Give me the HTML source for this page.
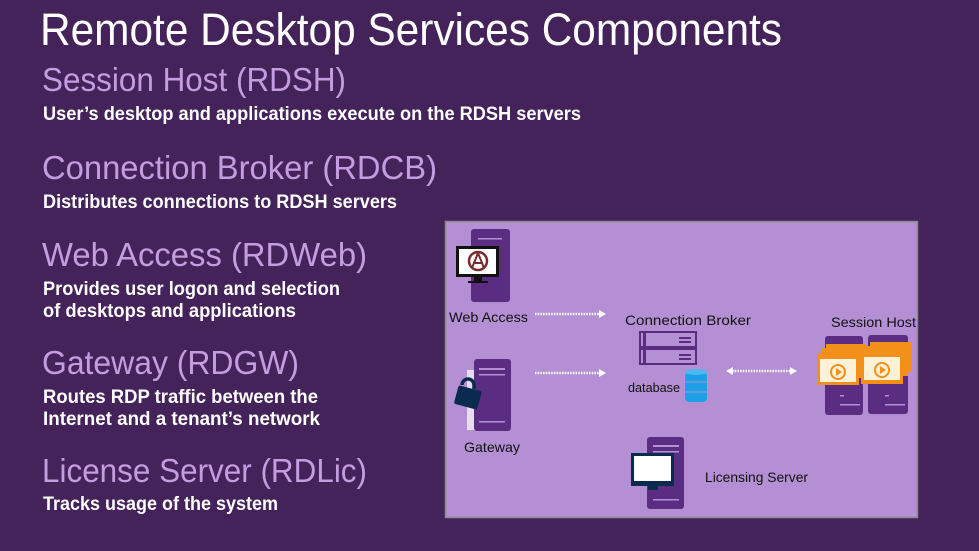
<!DOCTYPE html>
<html><head><meta charset="utf-8"><style>
html,body{margin:0;padding:0;background:#44235a;}
svg{display:block;font-family:"Liberation Sans",sans-serif;}
</style></head><body>
<svg width="979" height="551" viewBox="0 0 979 551" xmlns="http://www.w3.org/2000/svg">
<rect width="979" height="551" fill="#44235a"/>
<text x="40" y="45" font-size="45" fill="#fff" textLength="742" lengthAdjust="spacingAndGlyphs">Remote Desktop Services Components</text>
<g fill="#c49de0" font-size="33">
<text x="42" y="91" textLength="304" lengthAdjust="spacingAndGlyphs">Session Host (RDSH)</text>
<text x="42" y="179" textLength="395" lengthAdjust="spacingAndGlyphs">Connection Broker (RDCB)</text>
<text x="42" y="266" textLength="325" lengthAdjust="spacingAndGlyphs">Web Access (RDWeb)</text>
<text x="42" y="374" textLength="257" lengthAdjust="spacingAndGlyphs">Gateway (RDGW)</text>
<text x="42" y="482" textLength="325" lengthAdjust="spacingAndGlyphs">License Server (RDLic)</text>
</g>
<g fill="#fff" font-size="19" font-weight="bold">
<text x="43" y="120" textLength="538" lengthAdjust="spacingAndGlyphs">User’s desktop and applications execute on the RDSH servers</text>
<text x="43" y="208" textLength="354" lengthAdjust="spacingAndGlyphs">Distributes connections to RDSH servers</text>
<text x="43" y="295" textLength="297" lengthAdjust="spacingAndGlyphs">Provides user logon and selection</text>
<text x="43" y="317" textLength="253" lengthAdjust="spacingAndGlyphs">of desktops and applications</text>
<text x="43" y="403" textLength="275" lengthAdjust="spacingAndGlyphs">Routes RDP traffic between the</text>
<text x="43" y="425" textLength="277" lengthAdjust="spacingAndGlyphs">Internet and a tenant’s network</text>
<text x="43" y="510" textLength="235" lengthAdjust="spacingAndGlyphs">Tracks usage of the system</text>
</g>
<rect x="445.5" y="221.5" width="472" height="296" fill="#b48fd4" stroke="#8a8a8a" stroke-width="1.5"/>
<rect x="471" y="229" width="39" height="73" rx="3" fill="#5a2d82"/>
<rect x="478" y="238" width="24" height="1.5" fill="#b48fd4"/>
<rect x="456" y="246" width="43" height="31" fill="#111"/>
<rect x="459" y="249" width="37" height="25" fill="#fff"/>
<rect x="474" y="277" width="8" height="4" fill="#111"/><rect x="468" y="281" width="20" height="2" fill="#111"/>
<circle cx="478" cy="261" r="9" fill="none" stroke="#7a2a2a" stroke-width="2.5"/>
<path d="M478 253 L472 268 M478 253 L484 268 M473 263 H483" stroke="#7a2a2a" stroke-width="2" fill="none"/>
<text x="449" y="322" font-size="14" fill="#111" textLength="79" lengthAdjust="spacingAndGlyphs">Web Access</text>
<g stroke="#fff" stroke-width="2.5" stroke-dasharray="1.5 1.2">
<line x1="535" y1="314" x2="600" y2="314"/>
<line x1="535" y1="373" x2="600" y2="373"/>
<line x1="732" y1="371" x2="791" y2="371"/>
</g>
<g fill="#fff">
<path d="M599 310 L606 314 L599 318Z"/>
<path d="M599 369 L606 373 L599 377Z"/>
<path d="M790 367 L797 371 L790 375Z"/>
<path d="M733 367 L726 371 L733 375Z"/>
</g>
<text x="625" y="325" font-size="14" fill="#111" textLength="126" lengthAdjust="spacingAndGlyphs">Connection Broker</text>
<g fill="none" stroke="#5a2d82" stroke-width="2">
<rect x="640" y="332" width="56" height="15"/>
<rect x="640" y="349" width="56" height="15"/>
</g>
<g fill="#5a2d82"><rect x="679" y="337" width="12" height="2"/><rect x="679" y="341" width="12" height="2"/><rect x="679" y="354" width="12" height="2"/><rect x="679" y="358" width="12" height="2"/><rect x="643" y="333" width="3" height="13"/><rect x="643" y="350" width="3" height="13"/></g>
<text x="628" y="392" font-size="13" fill="#111" textLength="52" lengthAdjust="spacingAndGlyphs">database</text>
<g fill="#1ea0e8"><rect x="685" y="372" width="22" height="30" rx="4"/></g>
<ellipse cx="696" cy="372" rx="11" ry="3" fill="#4cb8f0"/>
<g stroke="#b48fd4" stroke-width="1"><line x1="685" y1="382" x2="707" y2="382"/><line x1="685" y1="392" x2="707" y2="392"/></g>
<text x="831" y="327" font-size="14" fill="#111" textLength="85" lengthAdjust="spacingAndGlyphs">Session Host</text>
<rect x="825" y="336" width="38" height="79" rx="3" fill="#5a2d82"/>
<rect x="868" y="335" width="40" height="79" rx="3" fill="#5a2d82"/>
<g fill="#b48fd4"><rect x="840" y="395" width="4" height="1.5"/><rect x="840" y="404" width="20" height="1.5"/><rect x="885" y="395" width="4" height="1.5"/><rect x="885" y="404" width="20" height="1.5"/></g>
<g fill="#f39019">
<rect x="826" y="344" width="40" height="30"/><rect x="822" y="348" width="40" height="30"/>
<rect x="870" y="342" width="42" height="30"/><rect x="866" y="346" width="42" height="30"/>
<rect x="817" y="353" width="42" height="32"/><rect x="861" y="351" width="42" height="33"/>
</g>
<rect x="820" y="359" width="36" height="23" fill="#fdf1d8"/>
<rect x="864" y="357" width="36" height="23" fill="#fdf1d8"/>
<circle cx="838" cy="372" r="7" fill="none" stroke="#f39019" stroke-width="2"/>
<path d="M836 368 L842 372 L836 376Z" fill="#f39019"/>
<circle cx="882" cy="370" r="7" fill="none" stroke="#f39019" stroke-width="2"/>
<path d="M880 366 L886 370 L880 374Z" fill="#f39019"/>
<rect x="467" y="370" width="10" height="60" fill="#e8dcf0"/>
<rect x="474" y="359" width="37" height="72" rx="3" fill="#5a2d82"/>
<g fill="#b48fd4"><rect x="479" y="368" width="26" height="2"/><rect x="479" y="374" width="26" height="1.5"/><rect x="479" y="421" width="26" height="1.5"/></g>
<path d="M462 385 a6 6 0 0 1 12 0 v4" fill="none" stroke="#0b2a50" stroke-width="3.5"/>
<rect x="456" y="388" width="24" height="19" rx="2" fill="#0b2a50" transform="rotate(15 468 397)"/>
<text x="464" y="452" font-size="14" fill="#111" textLength="56" lengthAdjust="spacingAndGlyphs">Gateway</text>
<rect x="647" y="437" width="37" height="72" rx="3" fill="#5a2d82"/>
<g fill="#b48fd4"><rect x="653" y="445" width="26" height="2"/><rect x="653" y="451" width="26" height="1.5"/><rect x="653" y="499" width="26" height="1.5"/></g>
<rect x="631" y="453" width="43" height="33" fill="#0b2a50"/>
<rect x="634" y="456" width="37" height="25" fill="#fff"/>
<rect x="648" y="486" width="10" height="4" fill="#0b2a50"/>
<text x="705" y="482" font-size="14" fill="#111" textLength="103" lengthAdjust="spacingAndGlyphs">Licensing Server</text>
</svg>
</body></html>
